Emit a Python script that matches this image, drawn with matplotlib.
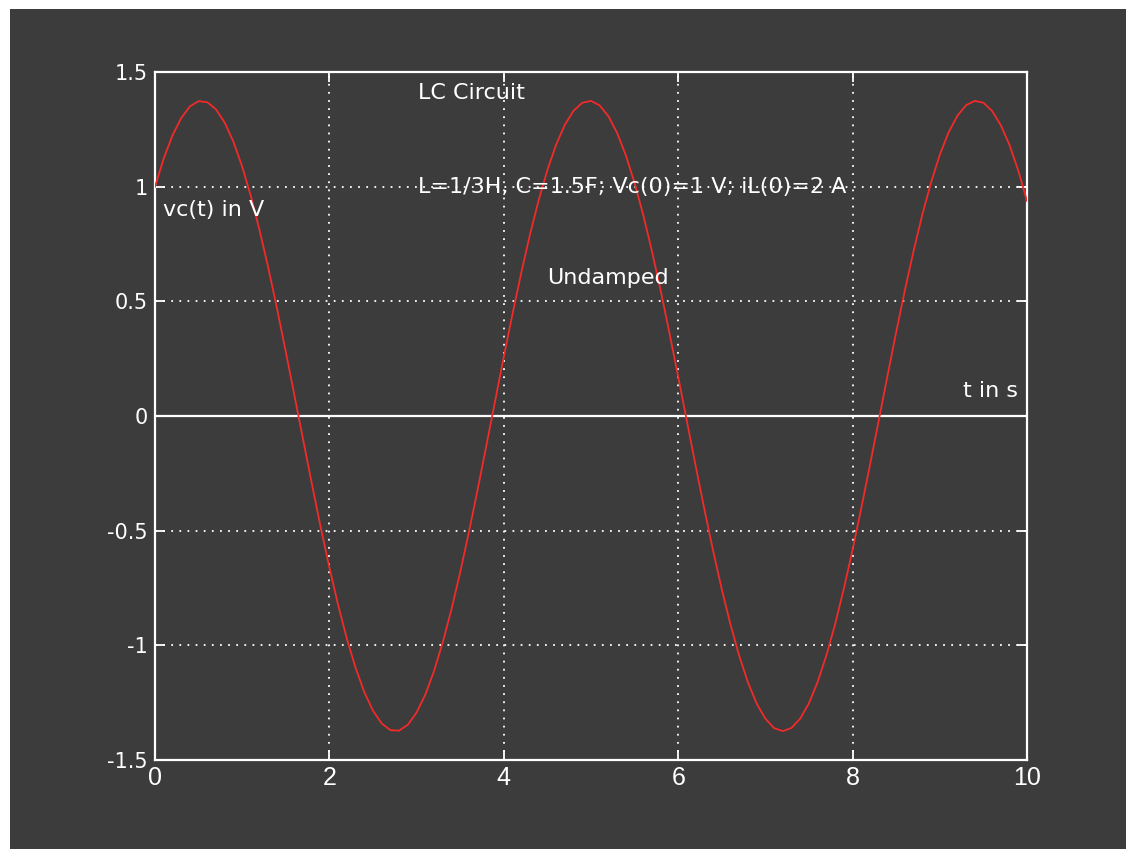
import numpy as np
import matplotlib
matplotlib.use("Agg")
import matplotlib.pyplot as plt
from matplotlib.patches import Rectangle

# time axis (s) and capacitor voltage (V)
t = [round(0.1 * k, 1) for k in range(101)]
vc = [1.000, 1.123, 1.223, 1.299, 1.350, 1.373, 1.368, 1.337, 1.279, 1.195,
      1.087, 0.958, 0.809, 0.645, 0.467, 0.280, 0.088, -0.106, -0.298, -0.485,
      -0.661, -0.824, -0.971, -1.098, -1.204, -1.285, -1.341, -1.370, -1.372, -1.346,
      -1.293, -1.215, -1.112, -0.987, -0.843, -0.681, -0.506, -0.321, -0.129, 0.065,
      0.258, 0.445, 0.624, 0.791, 0.941, 1.073, 1.183, 1.270, 1.331, 1.366,
      1.374, 1.354, 1.307, 1.234, 1.136, 1.016, 0.875, 0.717, 0.545, 0.361,
      0.171, -0.023, -0.217, -0.406, -0.587, -0.756, -0.910, -1.046, -1.162, -1.254,
      -1.320, -1.361, -1.374, -1.360, -1.319, -1.252, -1.159, -1.043, -0.907, -0.752,
      -0.583, -0.401, -0.212, -0.019, 0.175, 0.366, 0.549, 0.721, 0.879, 1.019,
      1.139, 1.236, 1.308, 1.355, 1.374, 1.366, 1.330, 1.268, 1.181, 1.070,
      0.938]
zero_t = [0, 10]
zero_v = [0, 0]
xticks = [0, 2, 4, 6, 8, 10]
yticks = [-1.5, -1, -0.5, 0, 0.5, 1, 1.5]
ytick_labels = ["-1.5", "-1", "-0.5", "0", "0.5", "1", "1.5"]

plt.rcParams['font.family'] = ['DejaVu Sans']
W, H = 1126, 849
bg = '#3c3c3c'
fig = plt.figure(figsize=(W / 100, H / 100), dpi=100, facecolor='white')
fig.patches.append(Rectangle((10 / W, 0), 1 - 10 / W, 1 - 9 / H,
                             transform=fig.transFigure, facecolor=bg,
                             edgecolor='none', zorder=-10))

ax = fig.add_axes([155 / W, 1 - 760 / H, (1027 - 155) / W, (760 - 72) / H])
ax.set_zorder(5)
ax.set_facecolor(bg)
ax.plot(zero_t, zero_v, color='white', lw=1.6, zorder=2)
ax.plot(t, vc, color='#f22a2a', lw=1.3, zorder=3)
ax.set_xlim(0, 10)
ax.set_ylim(-1.5, 1.5)
ax.set_xticks(xticks)
ax.set_yticks(yticks)
ax.set_yticklabels(ytick_labels)
ax.grid(True, color='white', linestyle=(0, (1, 3.5)), lw=1.3)
for s in ax.spines.values():
    s.set_color('white')
    s.set_linewidth(1.6)
ax.tick_params(direction='in', length=7, width=1.3, color='white',
               labelcolor='white', top=True, right=True, pad=5)
ax.tick_params(axis='y', labelsize=15)
ax.tick_params(axis='x', labelsize=18, pad=4)
for lab in ax.get_xticklabels():
    lab.set_fontfamily('Liberation Sans')

txt = dict(color='white', fontsize=16, ha='left', va='center')
ax.text(3.02, 1.41, 'LC Circuit', **txt)
ax.text(3.02, 1.0, 'L=1/3H, C=1.5F; Vc(0)=1 V; iL(0)=2 A', **txt)
ax.text(4.5, 0.6, 'Undamped', **txt)
ax.text(0.09, 0.9, 'vc(t) in V', **txt)
ax.text(9.27, 0.11, 't in s', **txt)

fig.savefig('out.png', dpi=100, facecolor=fig.get_facecolor())
